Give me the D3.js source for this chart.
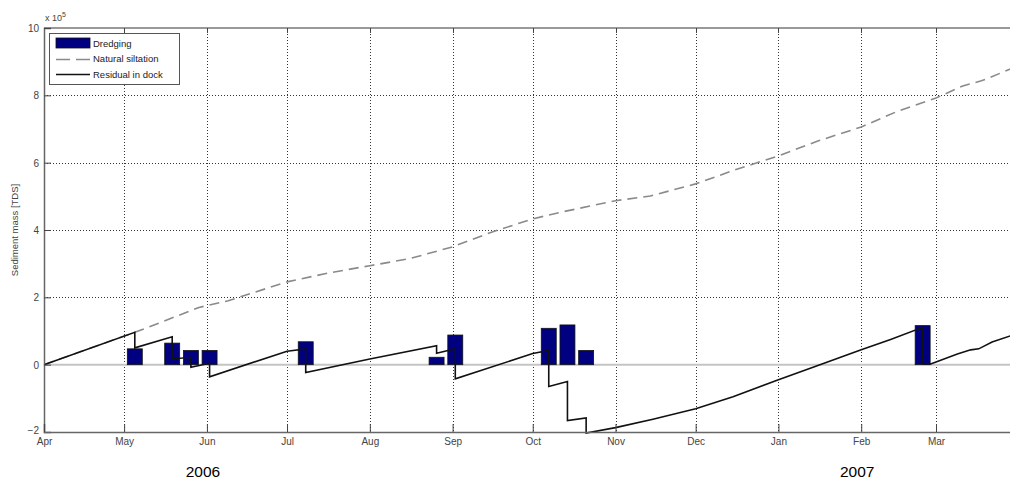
<!DOCTYPE html>
<html>
<head>
<meta charset="utf-8">
<script src="https://cdn.jsdelivr.net/npm/d3@7"></script>
<style>
  html, body { margin: 0; padding: 0; background: #fff; }
  svg { display: block; font-family: Arial, "Liberation Sans", sans-serif; }
</style>
</head>
<body>
<svg id="chart" width="1010" height="483"></svg>
<script>
// ---- data (values in units of 10^5 TDS) ----
const monthTicks = ["2006-04-01","2006-05-01","2006-06-01","2006-07-01","2006-08-01","2006-09-01","2006-10-01","2006-11-01","2006-12-01","2007-01-01","2007-02-01","2007-03-01"];
const monthLabels = ["Apr","May","Jun","Jul","Aug","Sep","Oct","Nov","Dec","Jan","Feb","Mar"];
const yTicks = [-2, 0, 2, 4, 6, 8, 10];
const yearLabels = ["2006", "2007"];
const yearLabelDates = ["2006-06-01", "2007-02-01"];

const dredgeDates = ["2006-05-05","2006-05-19","2006-05-26","2006-06-02","2006-07-08","2006-08-26","2006-09-02","2006-10-07","2006-10-14","2006-10-21","2007-02-24"];
const dredgeValues = [0.47, 0.64, 0.42, 0.42, 0.68, 0.22, 0.88, 1.08, 1.18, 0.42, 1.16];

const siltDates = ["2006-04-01","2006-05-05","2006-05-10","2006-05-29","2006-06-09","2006-07-01","2006-07-17","2006-08-01","2006-08-16","2006-09-01","2006-09-15","2006-10-01","2006-10-11","2006-11-01","2006-11-14","2006-12-01","2006-12-17","2007-01-01","2007-01-16","2007-02-01","2007-02-15","2007-03-01","2007-03-11","2007-03-18","2007-03-27","2007-03-31"];
const siltValues = [0, 0.96, 1.11, 1.70, 1.90, 2.46, 2.73, 2.94, 3.15, 3.50, 3.92, 4.33, 4.52, 4.87, 5.01, 5.37, 5.82, 6.20, 6.65, 7.06, 7.54, 7.92, 8.28, 8.43, 8.72, 8.85];

const residDates = ["2006-04-01","2006-05-05","2006-05-05","2006-05-19","2006-05-19","2006-05-26","2006-05-26","2006-06-02","2006-06-02","2006-07-01","2006-07-08","2006-07-08","2006-08-01","2006-08-26","2006-08-26","2006-09-02","2006-09-02","2006-10-01","2006-10-07","2006-10-07","2006-10-14","2006-10-14","2006-10-21","2006-10-21","2006-11-01","2006-11-15","2006-12-01","2006-12-15","2007-01-01","2007-01-15","2007-02-01","2007-02-12","2007-02-24","2007-02-24","2007-02-27","2007-03-01","2007-03-09","2007-03-14","2007-03-17","2007-03-22","2007-03-29","2007-03-31"];
const residValues = [0, 0.96, 0.50, 0.83, 0.17, 0.22, -0.08, 0.04, -0.36, 0.40, 0.47, -0.23, 0.17, 0.56, 0.34, 0.47, -0.42, 0.33, 0.42, -0.65, -0.50, -1.66, -1.58, -2.03, -1.87, -1.62, -1.31, -0.95, -0.45, -0.05, 0.44, 0.75, 1.11, 0.02, 0.02, 0.08, 0.32, 0.44, 0.47, 0.67, 0.86, 0.92];

const legendLabels = ["Dredging", "Natural siltation", "Residual in dock"];

// ---- setup ----
const parse = d3.timeParse("%Y-%m-%d");
const svg = d3.select("#chart");
const L = 44, T = 28, B = 432;
const x0 = parse("2006-04-01"), x1 = parse("2007-04-01");
const pxPerDay = 892 / 334;
const x = d3.scaleTime().domain([x0, x1]).range([L, L + 365 * pxPerDay]);
const y = d3.scaleLinear().domain([-2, 10]).range([B, T]);
const R = x(x1);

// grid
const grid = svg.append("g").attr("stroke", "#333").attr("stroke-width", 1).attr("stroke-dasharray", "1,2");
grid.selectAll("line.v").data(monthTicks.slice(1)).join("line")
  .attr("x1", d => Math.round(x(parse(d))) + 0.5).attr("x2", d => Math.round(x(parse(d))) + 0.5)
  .attr("y1", T).attr("y2", B);
grid.selectAll("line.h").data(yTicks.filter(v => v !== 0 && v !== -2 && v !== 10)).join("line")
  .attr("x1", L).attr("x2", R)
  .attr("y1", d => Math.round(y(d)) + 0.5).attr("y2", d => Math.round(y(d)) + 0.5);

// zero line
svg.append("line").attr("x1", L).attr("x2", R).attr("y1", y(0)).attr("y2", y(0))
  .attr("stroke", "#c4c4c4").attr("stroke-width", 2);

// bars
const halfW = 2.8 * 24 * 3600 * 1000;
svg.append("g").selectAll("rect").data(dredgeDates.map((d, i) => ({ d: parse(d), v: dredgeValues[i] }))).join("rect")
  .attr("x", d => x(new Date(+d.d - halfW)))
  .attr("width", d => x(new Date(+d.d + halfW)) - x(new Date(+d.d - halfW)))
  .attr("y", d => y(d.v)).attr("height", d => y(0) - y(d.v))
  .attr("fill", "#000080").attr("stroke", "#111").attr("stroke-width", 0.8);

// lines
const line = d3.line().x(d => x(d.d)).y(d => y(d.v));
svg.append("path").datum(siltDates.map((d, i) => ({ d: parse(d), v: siltValues[i] })))
  .attr("d", line).attr("fill", "none").attr("stroke", "#8a8a8a").attr("stroke-width", 1.6)
  .attr("stroke-dasharray", "10,6");
svg.append("path").datum(residDates.map((d, i) => ({ d: parse(d), v: residValues[i] })))
  .attr("d", line).attr("fill", "none").attr("stroke", "#111").attr("stroke-width", 1.6);

// frame
svg.append("line").attr("x1", L).attr("x2", R).attr("y1", T).attr("y2", T).attr("stroke", "#777").attr("stroke-width", 1.5);

// axes
const yAxis = d3.axisLeft(y).tickValues(yTicks).tickSize(-7).tickPadding(5).tickFormat(d3.format("d"));
const gy = svg.append("g").attr("transform", `translate(${L},0)`).call(yAxis);
const xAxis = d3.axisBottom(x).tickValues(monthTicks.map(parse)).tickSize(-8).tickPadding(6)
  .tickFormat((d, i) => monthLabels[i]);
const gx = svg.append("g").attr("transform", `translate(0,${B})`).call(xAxis);
// top ticks
svg.append("g").selectAll("line").data(monthTicks.slice(1)).join("line")
  .attr("x1", d => Math.round(x(parse(d))) + 0.5).attr("x2", d => Math.round(x(parse(d))) + 0.5)
  .attr("y1", T).attr("y2", T + 5).attr("stroke", "#444");

[gx, gy].forEach(g => {
  g.select(".domain").attr("stroke", "#666").attr("stroke-width", 1.5);
  g.selectAll(".tick line").attr("stroke", "#444");
  g.selectAll(".tick text").attr("fill", "#444").attr("font-size", 10).attr("font-family", "Arial, 'Liberation Sans', sans-serif");
});
gy.selectAll(".tick text").attr("dy", "0.35em");
gy.selectAll(".tick").filter(d => d === -2).select("text").attr("dy", "0.1em");

// exponent label
const ex = svg.append("text").attr("x", L + 1).attr("y", 21).attr("font-size", 9).attr("fill", "#444");
ex.append("tspan").text("x 10");
ex.append("tspan").attr("dy", -4).attr("font-size", 7).text("5");

// y label
svg.append("text").attr("transform", `translate(18,${(T + B) / 2}) rotate(-90)`)
  .attr("text-anchor", "middle").attr("font-size", 9.5).attr("fill", "#444").text("Sediment mass [TDS]");

// year labels
svg.append("g").selectAll("text").data(yearLabels).join("text")
  .attr("x", (d, i) => x(parse(yearLabelDates[i])) - 4).attr("y", 477)
  .attr("text-anchor", "middle").attr("font-size", 15.5).attr("fill", "#000").text(d => d);

// legend
const lg = svg.append("g");
lg.append("rect").attr("x", 49.5).attr("y", 33.5).attr("width", 130).attr("height", 51)
  .attr("fill", "#fff").attr("stroke", "#555").attr("stroke-width", 1);
lg.append("rect").attr("x", 56).attr("y", 38).attr("width", 34).attr("height", 10)
  .attr("fill", "#000080").attr("stroke", "#111").attr("stroke-width", 0.8);
lg.append("line").attr("x1", 56).attr("x2", 90).attr("y1", 59.5).attr("y2", 59.5)
  .attr("stroke", "#8a8a8a").attr("stroke-width", 1.6).attr("stroke-dasharray", "14,6");
lg.append("line").attr("x1", 56).attr("x2", 90).attr("y1", 74.5).attr("y2", 74.5)
  .attr("stroke", "#111").attr("stroke-width", 1.6);
lg.selectAll("text").data(legendLabels).join("text")
  .attr("x", 93).attr("y", (d, i) => 47 + i * 15.3)
  .attr("font-size", 9.5).attr("fill", "#222").text(d => d);
</script>
</body>
</html>
